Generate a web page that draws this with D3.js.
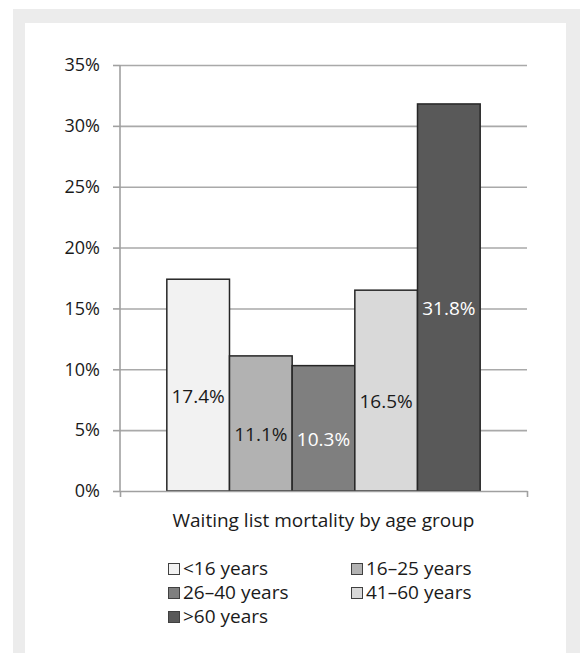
<!DOCTYPE html>
<html>
<head>
<meta charset="utf-8">
<script src="https://cdn.jsdelivr.net/npm/d3@7"></script>
<style>
  html, body { margin: 0; padding: 0; background: #ffffff; }
  svg { display: block; font-family: "Open Sans", "Noto Sans", sans-serif; }
</style>
</head>
<body>
<svg id="chart" width="580" height="653"></svg>
<script>
// ---- data ----
const groupLabel = "Waiting list mortality by age group";
const categories = ["<16 years", "16–25 years", "26–40 years", "41–60 years", ">60 years"];
const values = [17.4, 11.1, 10.3, 16.5, 31.8];
const yTickValues = [0, 5, 10, 15, 20, 25, 30, 35];

// ---- styles ----
const barFills = ["#f2f2f2", "#b2b2b2", "#7f7f7f", "#d9d9d9", "#595959"];
const labelFills = ["#1a1a1a", "#1a1a1a", "#ffffff", "#1a1a1a", "#ffffff"];
const FONT = "'Open Sans', 'Noto Sans', sans-serif";

const svg = d3.select("#chart");
const W = 580, H = 653;

// page frame
svg.append("rect").attr("x", 13).attr("y", 9).attr("width", W - 13).attr("height", H - 9).attr("fill", "#ececec");
svg.append("rect").attr("x", 25).attr("y", 23).attr("width", 541).attr("height", H - 23).attr("fill", "#ffffff");

const plot = { left: 120, right: 527, top: 65, bottom: 491 };

const x0 = d3.scaleBand().domain([groupLabel]).range([plot.left, plot.right]).paddingInner(0.13).paddingOuter(0.13);
const x1 = d3.scaleBand().domain(categories).range([0, x0.bandwidth()]).padding(0);
const y = d3.scaleLinear().domain([0, 35]).range([plot.bottom, plot.top]);

// gridlines
const grid = svg.append("g").attr("transform", `translate(${plot.left},0)`)
  .call(d3.axisLeft(y).tickValues(yTickValues.filter(d => d > 0)).tickSize(-(plot.right - plot.left)).tickFormat(""));
grid.select(".domain").remove();
grid.selectAll(".tick line").attr("stroke", "#a9a9a9").attr("stroke-width", 1.6);

// bars
const data = categories.map((c, i) => ({ c, v: values[i], i }));
const gBars = svg.append("g").attr("transform", `translate(${x0(groupLabel)},0)`);
gBars.selectAll("rect").data(data).join("rect")
  .attr("x", d => x1(d.c))
  .attr("y", d => y(d.v))
  .attr("width", x1.bandwidth())
  .attr("height", d => y(0) - y(d.v))
  .attr("fill", d => barFills[d.i])
  .attr("stroke", "#262626")
  .attr("stroke-width", 1.5);

// data labels
gBars.selectAll("text").data(data).join("text")
  .attr("x", d => x1(d.c) + x1.bandwidth() / 2)
  .attr("y", d => y(d.v / 2) + 10.5)
  .attr("text-anchor", "middle")
  .attr("dominant-baseline", "central")
  .attr("font-size", 19)
  .attr("fill", d => labelFills[d.i])
  .text(d => d.v.toFixed(1) + "%");

// y axis
const yAxis = svg.append("g").attr("transform", `translate(${plot.left},0)`)
  .call(d3.axisLeft(y).tickValues(yTickValues).tickSize(7).tickPadding(13).tickFormat(d => d + "%"));
yAxis.select(".domain").attr("stroke", "#a0a0a0").attr("stroke-width", 1.6)
  .attr("d", `M0,${plot.top}V${plot.bottom}`);
yAxis.selectAll(".tick line").attr("stroke", "#a0a0a0").attr("stroke-width", 1.6);
yAxis.selectAll(".tick text").attr("font-size", 18).attr("fill", "#1a1a1a").attr("font-family", FONT);

// x axis: line with boundary ticks
const xEdge = d3.scaleLinear().domain([0, 1]).range([plot.left, plot.right]);
const xAxis = svg.append("g").attr("transform", `translate(0,${plot.bottom})`)
  .call(d3.axisBottom(xEdge).tickValues([0, 1]).tickSize(6).tickSizeOuter(0).tickFormat(""));
xAxis.select(".domain").attr("stroke", "#a0a0a0").attr("stroke-width", 1.6);
xAxis.selectAll(".tick line").attr("stroke", "#a0a0a0").attr("stroke-width", 1.6);

// category (group) label
svg.append("text")
  .attr("x", x0(groupLabel) + x0.bandwidth() / 2)
  .attr("y", 527)
  .attr("text-anchor", "middle")
  .attr("font-size", 19)
  .attr("fill", "#1a1a1a")
  .text(groupLabel);

// legend
const legendCols = [168, 351];
const legendRows = [575, 599, 623];
const legend = svg.append("g");
const items = legend.selectAll("g").data(data).join("g")
  .attr("transform", d => `translate(${legendCols[d.i % 2]},${legendRows[Math.floor(d.i / 2)]})`);
items.append("rect")
  .attr("x", 0.5).attr("y", -11.5).attr("width", 11).attr("height", 11)
  .attr("fill", d => barFills[d.i]).attr("stroke", "#404040").attr("stroke-width", 1);
items.append("text")
  .attr("x", 15).attr("y", 0)
  .attr("font-size", 19).attr("fill", "#1a1a1a")
  .text(d => d.c);
</script>
</body>
</html>
